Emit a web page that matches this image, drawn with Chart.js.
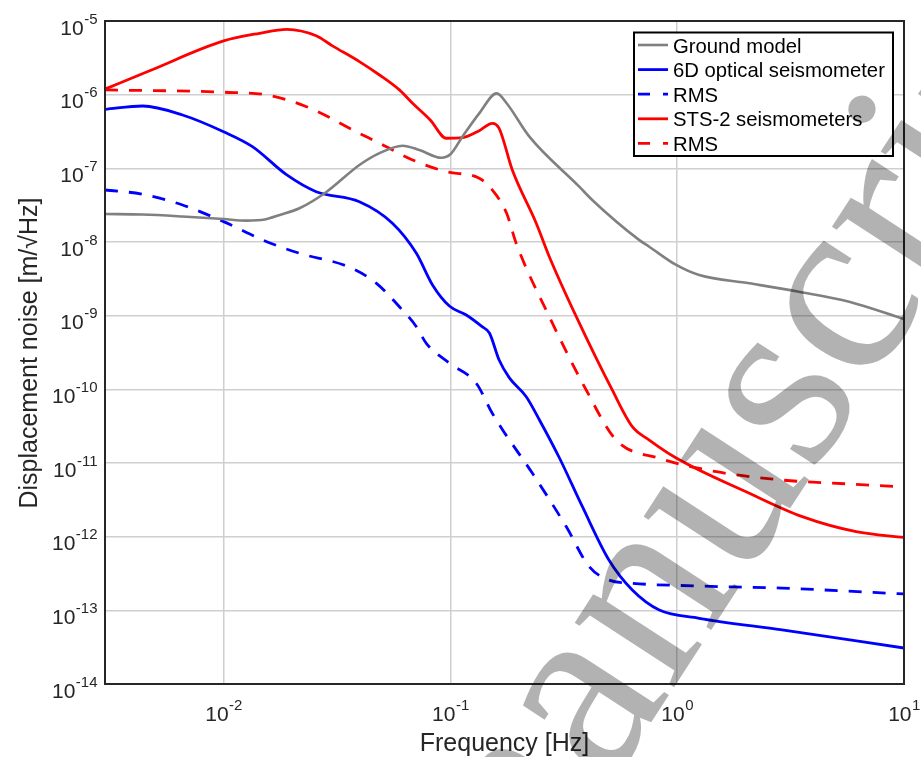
<!DOCTYPE html>
<html><head><meta charset="utf-8">
<script src="https://cdn.jsdelivr.net/npm/chart.js@4/dist/chart.umd.min.js"></script>
<style>html,body{margin:0;padding:0;background:#fff}</style>
</head><body>
<canvas id="c" width="921" height="757"></canvas>
<script>
// ---- data (frequency in Hz, displacement noise in m/sqrt(Hz)) ----
const groundFreq  = [0.003, 0.0044, 0.0066, 0.010, 0.0126, 0.0152, 0.0177, 0.0216, 0.0284, 0.0397, 0.0487, 0.0615, 0.073, 0.0913, 0.100, 0.113, 0.134, 0.160, 0.177, 0.223, 0.370, 0.422, 0.681, 0.753, 0.99, 1.25, 2.08, 3.44, 5.73, 10];
const groundNoise = [2.40e-8, 2.36e-8, 2.22e-8, 2.05e-8, 1.95e-8, 2.02e-8, 2.33e-8, 2.87e-8, 4.78e-8, 1.11e-7, 1.61e-7, 2.03e-7, 1.77e-7, 1.39e-7, 1.55e-7, 2.69e-7, 5.58e-7, 1.04e-6, 7.64e-7, 2.69e-7, 5.64e-8, 3.72e-8, 1.06e-8, 8.63e-9, 4.88e-9, 3.56e-9, 2.75e-9, 2.11e-9, 1.55e-9, 9.0e-10];

const opticalFreq  = [0.003, 0.0044, 0.00659, 0.010, 0.0134, 0.0190, 0.0256, 0.0397, 0.0555, 0.0708, 0.0834, 0.099, 0.1175, 0.138, 0.1486, 0.164, 0.182, 0.216, 0.247, 0.303, 0.382, 0.50, 0.634, 0.834, 1.25, 2.90, 10];
const opticalNoise = [6.32e-7, 7.02e-7, 5.30e-7, 3.14e-7, 1.97e-7, 8.13e-8, 4.82e-8, 3.52e-8, 1.80e-8, 7.03e-9, 2.61e-9, 1.35e-9, 1.02e-9, 7.08e-10, 5.82e-10, 2.50e-10, 1.43e-10, 7.94e-11, 3.84e-11, 1.16e-11, 2.55e-12, 4.83e-13, 1.89e-13, 1.01e-13, 7.80e-14, 5.41e-14, 3.08e-14];

const opticalRmsFreq  = [0.003, 0.0044, 0.00659, 0.010, 0.0155, 0.0216, 0.0359, 0.0472, 0.0596, 0.0708, 0.0783, 0.099, 0.130, 0.153, 0.170, 0.230, 0.324, 0.409, 0.50, 0.634, 1.25, 2.90, 10];
const opticalRmsNoise = [5.08e-8, 4.45e-8, 3.18e-8, 1.89e-8, 1.01e-8, 7.03e-9, 4.54e-9, 2.75e-9, 1.32e-9, 7.08e-10, 4.22e-10, 2.26e-10, 1.21e-10, 4.73e-11, 2.81e-11, 7.25e-12, 1.37e-12, 3.92e-13, 2.58e-13, 2.33e-13, 2.14e-13, 2.00e-13, 1.67e-13];

const stsFreq  = [0.003, 0.00472, 0.010, 0.0144, 0.0190, 0.0256, 0.0302, 0.0397, 0.0487, 0.0596, 0.0681, 0.0815, 0.0959, 0.113, 0.134, 0.153, 0.164, 0.1875, 0.239, 0.273, 0.359, 0.517, 0.634, 0.753, 0.99, 2.08, 3.56, 6.15, 10];
const stsNoise = [1.19e-6, 2.11e-6, 5.36e-6, 6.81e-6, 7.71e-6, 6.30e-6, 4.60e-6, 2.81e-6, 1.85e-6, 1.16e-6, 7.64e-7, 4.53e-7, 2.56e-7, 2.61e-7, 3.24e-7, 4.08e-7, 3.49e-7, 9.48e-8, 1.80e-8, 6.32e-9, 9.68e-10, 9.8e-11, 3.11e-11, 2.05e-11, 1.17e-11, 3.88e-12, 1.87e-12, 1.17e-12, 9.75e-13];

const stsRmsFreq  = [0.003, 0.010, 0.0155, 0.0232, 0.0397, 0.0487, 0.0681, 0.0959, 0.134, 0.153, 0.177, 0.195, 0.273, 0.397, 0.538, 0.834, 1.49, 2.90, 5.73, 10];
const stsRmsNoise = [1.16e-6, 1.08e-6, 9.9e-7, 6.87e-7, 2.99e-7, 2.19e-7, 1.30e-7, 9.0e-8, 7.33e-8, 5.08e-8, 2.45e-8, 9.6e-9, 9.68e-10, 9.8e-11, 2.05e-11, 1.16e-11, 7.62e-12, 5.87e-12, 5.19e-12, 4.72e-12];

const seriesLabels = ['Ground model', '6D optical seismometer', 'RMS', 'STS-2 seismometers', 'RMS'];
const xTickValues = [0.01, 0.1, 1, 10];
const xTickExponents = ['-2', '-1', '0', '1'];
const yTickValues = [1e-14, 1e-13, 1e-12, 1e-11, 1e-10, 1e-9, 1e-8, 1e-7, 1e-6, 1e-5];
const yTickExponents = ['-14', '-13', '-12', '-11', '-10', '-9', '-8', '-7', '-6', '-5'];
const xTitle = 'Frequency [Hz]';
const yTitle = 'Displacement noise [m/\u221AHz]';
const watermark = 'manuscript';

const pts = (xs, ys) => xs.map((x, i) => ({x: x, y: ys[i]}));
const GRAY = '#808080', BLUE = '#0000ff', RED = '#ff0000';
const DASH = [13, 11];
const LW = 2.8;

const datasets = [
  {label: seriesLabels[0], data: pts(groundFreq, groundNoise), borderColor: GRAY, borderWidth: 2.6},
  {label: seriesLabels[1], data: pts(opticalFreq, opticalNoise), borderColor: BLUE, borderWidth: LW},
  {label: seriesLabels[2], data: pts(opticalRmsFreq, opticalRmsNoise), borderColor: BLUE, borderWidth: LW, borderDash: DASH},
  {label: seriesLabels[3], data: pts(stsFreq, stsNoise), borderColor: RED, borderWidth: LW},
  {label: seriesLabels[4], data: pts(stsRmsFreq, stsRmsNoise), borderColor: RED, borderWidth: LW, borderDash: DASH}
].map(d => Object.assign(d, {pointRadius: 0, fill: false, cubicInterpolationMode: 'monotone', borderCapStyle: 'butt'}));

function drawPow(ctx, exp, x, baseY, align) {
  ctx.font = '21px "Liberation Sans", Arial, sans-serif';
  const wb = ctx.measureText('10').width;
  ctx.font = '15px "Liberation Sans", Arial, sans-serif';
  const we = ctx.measureText(exp).width;
  const total = wb + we;
  let sx = align === 'right' ? x - total : x - total / 2;
  ctx.textAlign = 'left';
  ctx.textBaseline = 'alphabetic';
  ctx.font = '21px "Liberation Sans", Arial, sans-serif';
  ctx.fillText('10', sx, baseY);
  ctx.font = '15px "Liberation Sans", Arial, sans-serif';
  ctx.fillText(exp, sx + wb + 0.5, baseY - 11);
}

const deco = {
  id: 'deco',
  afterDraw(chart) {
    const ctx = chart.ctx, xs = chart.scales.x, ys = chart.scales.y, a = chart.chartArea;
    ctx.save();
    // axes box
    ctx.strokeStyle = '#262626';
    ctx.lineWidth = 2;
    ctx.setLineDash([]);
    ctx.strokeRect(a.left, a.top, a.right - a.left, a.bottom - a.top);
    // tick labels
    ctx.fillStyle = '#262626';
    yTickValues.forEach((v, i) => drawPow(ctx, yTickExponents[i], 97, ys.getPixelForValue(v) + 13.5, 'right'));
    xTickValues.forEach((v, i) => drawPow(ctx, xTickExponents[i], xs.getPixelForValue(v), 721, 'center'));
    // axis titles
    ctx.font = '25px "Liberation Sans", Arial, sans-serif';
    ctx.textAlign = 'center';
    ctx.textBaseline = 'alphabetic';
    ctx.fillText(xTitle, (a.left + a.right) / 2, 751);
    ctx.save();
    ctx.translate(36.5, 353);
    ctx.rotate(-Math.PI / 2);
    ctx.fillText(yTitle, 0, 0);
    ctx.restore();
    // legend
    const lx = 634, ly = 32.5, lw = 259, lh = 123.5;
    ctx.fillStyle = '#ffffff';
    ctx.fillRect(lx, ly, lw, lh);
    ctx.strokeStyle = '#000000';
    ctx.lineWidth = 2;
    ctx.strokeRect(lx, ly, lw, lh);
    ctx.font = '20.3px "Liberation Sans", Arial, sans-serif';
    ctx.textAlign = 'left';
    chart.data.datasets.forEach((d, i) => {
      const ry = 45 + i * 24.6;
      ctx.strokeStyle = d.borderColor;
      ctx.lineWidth = d.borderWidth;
      ctx.lineCap = 'butt';
      ctx.setLineDash(d.borderDash ? [12, 13] : []);
      ctx.beginPath(); ctx.moveTo(638, ry); ctx.lineTo(668, ry); ctx.stroke();
      ctx.setLineDash([]);
      ctx.fillStyle = '#000000';
      ctx.fillText(d.label, 673, ry + 7.5);
    });
    // watermark
    const wsize = 258;
    ctx.font = wsize + 'px "Liberation Serif", "Times New Roman", serif';
    const pre = ctx.measureText('manu').width, sw = ctx.measureText('s').width;
    ctx.translate(790, 402);
    ctx.rotate(-57 * Math.PI / 180);
    ctx.fillStyle = 'rgba(0,0,0,0.3)';
    ctx.textAlign = 'left';
    ctx.fillText(watermark, -(pre + sw / 2), 0.225 * wsize);
    ctx.restore();
  }
};

new Chart(document.getElementById('c'), {
  type: 'line',
  data: {datasets: datasets},
  options: {
    responsive: false,
    animation: false,
    devicePixelRatio: 1,
    layout: {padding: {left: 105, right: 17, top: 21, bottom: 73}},
    plugins: {legend: {display: false}, tooltip: {enabled: false}},
    scales: {
      x: {
        type: 'logarithmic', min: 0.003, max: 10,
        afterBuildTicks: s => { s.ticks = xTickValues.map(v => ({value: v})); },
        ticks: {display: false},
        grid: {color: '#cfcfcf', lineWidth: 1.5, drawTicks: false},
        border: {display: false},
        title: {display: false}
      },
      y: {
        type: 'logarithmic', min: 1e-14, max: 1e-5,
        afterBuildTicks: s => { s.ticks = yTickValues.map(v => ({value: v})); },
        ticks: {display: false},
        grid: {color: '#cfcfcf', lineWidth: 1.5, drawTicks: false},
        border: {display: false},
        title: {display: false}
      }
    }
  },
  plugins: [deco]
});
</script>
</body></html>
